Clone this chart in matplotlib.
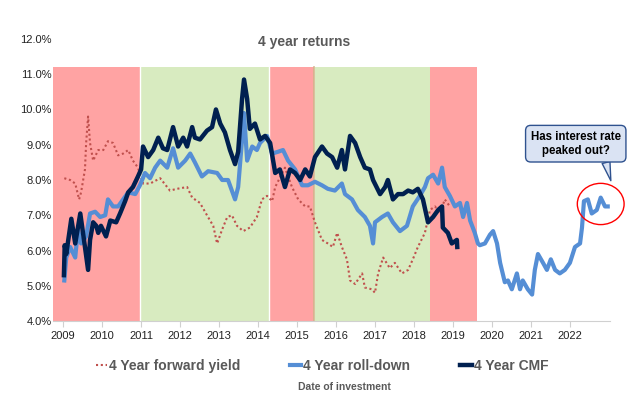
import matplotlib
matplotlib.use("Agg")
import matplotlib.pyplot as plt
from matplotlib.patches import Ellipse

plt.rcParams['font.family'] = ['Liberation Sans', 'DejaVu Sans']

# decimal years / percent values
fwd_x = [2009.03, 2009.18, 2009.31, 2009.41, 2009.46, 2009.56, 2009.59, 2009.64, 2009.69, 2009.77,
         2009.90, 2010.03, 2010.15, 2010.28, 2010.41, 2010.54, 2010.67, 2010.79, 2010.92, 2011.05,
         2011.23, 2011.49, 2011.74, 2011.92, 2012.18, 2012.31, 2012.51, 2012.69, 2012.85, 2012.95,
         2013.08, 2013.21, 2013.33, 2013.46, 2013.62, 2013.79, 2013.97, 2014.10, 2014.23, 2014.36,
         2014.44, 2014.69, 2014.87, 2015.03, 2015.21, 2015.33, 2015.46, 2015.64, 2015.79, 2015.92,
         2016.03, 2016.15, 2016.28, 2016.36, 2016.49, 2016.67, 2016.74, 2016.92, 2017.00, 2017.08,
         2017.21, 2017.38, 2017.51, 2017.69, 2017.85, 2017.97, 2018.10, 2018.28, 2018.41, 2018.54,
         2018.67, 2018.79, 2018.92]
fwd_y = [8.05, 8.0, 7.9, 7.45, 7.65, 8.3, 9.05, 9.8, 9.05, 8.55,
         8.85, 8.85, 9.1, 9.05, 8.7, 8.75, 8.85, 8.55, 8.35, 7.9,
         7.9, 8.05, 7.7, 7.75, 7.8, 7.5, 7.35, 7.0, 6.7, 6.2,
         6.6, 6.95, 7.0, 6.7, 6.55, 6.65, 6.95, 7.45, 7.55, 7.4,
         7.8, 8.35, 7.8, 7.45, 7.25, 7.25, 6.8, 6.3, 6.2, 6.1,
         6.5, 6.1, 5.75, 5.15, 5.05, 5.35, 4.95, 4.9, 4.8, 5.35,
         5.8, 5.5, 5.65, 5.35, 5.45, 5.75, 6.1, 6.5, 7.15, 7.25,
         7.05, 7.45, 7.25]

roll_x = [2009.03, 2009.08, 2009.18, 2009.31, 2009.38, 2009.46, 2009.59, 2009.69, 2009.82, 2009.95,
          2010.08, 2010.15, 2010.28, 2010.41, 2010.54, 2010.67, 2010.85, 2010.97, 2011.10, 2011.23,
          2011.36, 2011.49, 2011.67, 2011.82, 2011.95, 2012.13, 2012.26, 2012.38, 2012.56, 2012.72,
          2012.95, 2013.08, 2013.23, 2013.41, 2013.49, 2013.59, 2013.64, 2013.72, 2013.85, 2013.97,
          2014.05, 2014.23, 2014.36, 2014.51, 2014.64, 2014.77, 2014.95, 2015.13, 2015.28, 2015.46,
          2015.64, 2015.79, 2015.97, 2016.15, 2016.23, 2016.41, 2016.56, 2016.74, 2016.87, 2016.95,
          2017.00, 2017.18, 2017.33, 2017.46, 2017.64, 2017.82, 2017.97, 2018.15, 2018.28, 2018.36,
          2018.49, 2018.62, 2018.72, 2018.79, 2018.92, 2019.05, 2019.18, 2019.26, 2019.36, 2019.44,
          2019.56, 2019.64, 2019.69, 2019.82, 2019.95, 2020.03, 2020.13, 2020.21, 2020.33, 2020.41,
          2020.51, 2020.64, 2020.72, 2020.79, 2020.92, 2021.03, 2021.10, 2021.18, 2021.31, 2021.41,
          2021.51, 2021.62, 2021.74, 2021.87, 2022.00, 2022.13, 2022.26, 2022.31, 2022.36, 2022.46,
          2022.56, 2022.69, 2022.79, 2022.90, 2022.97]
roll_y = [5.15, 5.8, 6.1, 5.8, 6.6, 6.2, 6.4, 7.05, 7.1, 6.95,
          7.0, 7.45, 7.25, 7.25, 7.45, 7.65, 7.6, 7.85, 8.2, 8.05,
          8.35, 8.55, 8.35, 8.9, 8.35, 8.55, 8.75, 8.5, 8.1, 8.25,
          8.2, 8.0, 8.0, 7.45, 7.8, 9.15, 9.9, 8.55, 8.95, 8.85,
          9.05, 9.25, 8.75, 8.8, 8.85, 8.55, 8.3, 7.85, 7.85, 7.95,
          7.85, 7.75, 7.7, 7.9, 7.6, 7.45, 7.15, 6.95, 6.7, 6.2,
          6.8, 6.95, 7.05, 6.8, 6.55, 6.7, 7.25, 7.55, 7.8, 8.05,
          8.15, 7.9, 8.35, 7.8, 7.55, 7.25, 7.35, 6.95, 7.35, 6.85,
          6.5, 6.2, 6.15, 6.2, 6.45, 6.55, 6.2, 5.65, 5.1, 5.15,
          4.9, 5.35, 4.9, 5.15, 4.9, 4.75, 5.45, 5.9, 5.65, 5.45,
          5.75, 5.45, 5.35, 5.45, 5.65, 6.1, 6.2, 6.65, 7.4, 7.45,
          7.05, 7.15, 7.5, 7.25, 7.25]

cmf_x = [2009.02, 2009.04, 2009.08, 2009.21, 2009.31, 2009.44, 2009.56, 2009.64, 2009.69, 2009.77,
         2009.85, 2009.90, 2009.97, 2010.10, 2010.21, 2010.36, 2010.46, 2010.59, 2010.67, 2010.79,
         2010.92, 2011.00, 2011.05, 2011.18, 2011.31, 2011.44, 2011.56, 2011.67, 2011.82, 2011.95,
         2012.08, 2012.18, 2012.31, 2012.38, 2012.51, 2012.69, 2012.82, 2012.92, 2013.03, 2013.15,
         2013.28, 2013.41, 2013.49, 2013.59, 2013.64, 2013.72, 2013.79, 2013.92, 2014.05, 2014.18,
         2014.31, 2014.44, 2014.56, 2014.69, 2014.82, 2014.95, 2015.08, 2015.21, 2015.33, 2015.46,
         2015.64, 2015.77, 2015.90, 2016.03, 2016.15, 2016.23, 2016.36, 2016.49, 2016.62, 2016.74,
         2016.87, 2016.95, 2017.13, 2017.26, 2017.33, 2017.46, 2017.59, 2017.72, 2017.85, 2017.97,
         2018.10, 2018.23, 2018.36, 2018.49, 2018.62, 2018.72, 2018.74, 2018.87, 2018.97, 2019.10,
         2019.11]
cmf_y = [5.3, 6.15, 5.9, 6.9, 6.2, 7.05, 6.1, 5.45, 6.3, 6.8,
         6.7, 6.5, 6.7, 6.4, 6.85, 6.8, 7.05, 7.4, 7.65, 7.8,
         8.1, 8.3, 8.95, 8.65, 8.85, 9.2, 8.9, 8.85, 9.5, 8.95,
         9.2, 8.95, 9.5, 9.2, 9.15, 9.4, 9.5, 10.0, 9.6, 9.35,
         8.85, 8.45, 8.8, 10.3, 10.85, 10.3, 9.45, 9.6, 9.15, 9.25,
         9.05, 8.2, 8.3, 7.8, 8.3, 8.2, 8.0, 8.3, 8.1, 8.65,
         8.95, 8.75, 8.65, 8.35, 8.85, 8.3, 9.25, 9.05, 8.65, 8.35,
         8.3, 8.0, 7.6, 7.8, 8.0, 7.45, 7.6, 7.6, 7.7, 7.65,
         7.75, 7.45, 6.8, 6.95, 7.15, 7.25, 6.65, 6.5, 6.2, 6.3,
         6.1]

# rate-cycle bands (start, end, colour)
band_start = [2008.74, 2010.97, 2014.28, 2015.45, 2018.42]
band_end = [2010.96, 2014.27, 2015.44, 2018.42, 2019.62]
band_color = ['#ffa3a3', '#d8ebc0', '#ffa3a3', '#d8ebc0', '#ffa3a3']
band_top = 11.2

years = list(range(2009, 2023))

fig = plt.figure(figsize=(6.44, 3.97), dpi=100)
ax = fig.add_axes([0.0823, 0.1914, 0.8650, 0.7104])
ax.set_xlim(2008.74, 2023.03)
ax.set_ylim(4, 12)

frac = (band_top - 4) / 8
for s, e, c in zip(band_start, band_end, band_color):
    ax.axvspan(s, e, ymin=0, ymax=frac, color=c, lw=0, zorder=0)
ax.axvline(2015.445, ymax=frac, color='#d2b48c', lw=1.2, zorder=0)
ax.axvline(2010.965, ymax=frac, color='white', lw=1, zorder=0)
ax.axvline(2014.275, ymax=frac, color='white', lw=1, zorder=0)

ax.plot(fwd_x, fwd_y, ls=(0, (1, 1.3)), color='#c0504d', lw=1.5, label='4 Year forward yield', zorder=2)
ax.plot(roll_x, roll_y, color='#558ed5', lw=3, label='4 Year roll-down', zorder=3)
ax.plot(cmf_x, cmf_y, color='#002050', lw=3.2, label='4 Year CMF', zorder=4)

ax.set_yticks(range(4, 13))
ax.set_yticklabels(['%.1f%%' % v for v in range(4, 13)], fontsize=8, color='#222222')
ax.set_xticks(years)
ax.set_xticklabels([str(y) for y in years], fontsize=8, color='#222222')
ax.tick_params(axis='y', length=0, pad=1)
ax.tick_params(axis='x', length=4, color='#d0d0d0', pad=3)
for side in ['left', 'top', 'right']:
    ax.spines[side].set_visible(False)
ax.spines['bottom'].set_color('#d0d0d0')

fig.text(0.472, 0.894, '4 year returns', ha='center', va='center',
         fontsize=10, fontweight='bold', color='#595959')

leg = fig.legend(loc='center', bbox_to_anchor=(0.5, 0.078), ncol=3, frameon=False,
                 handlelength=0.8, handletextpad=0.15, columnspacing=3.6,
                 prop={'size': 10, 'weight': 'bold'})
for t in leg.get_texts():
    t.set_color('#595959')

fig.text(0.535, 0.025, 'Date of investment', ha='center', va='center',
         fontsize=7.5, fontweight='bold', color='#595959')

# callout
ax.annotate('Has interest rate\npeaked out?', xy=(2023.05, 7.98), xytext=(2022.15, 9.03),
            ha='center', va='center', fontsize=8.3, fontweight='bold', color='black',
            annotation_clip=False, linespacing=1.25,
            bbox=dict(boxstyle='round,pad=0.45', fc='#dae3f3', ec='#2f528f', lw=1),
            arrowprops=dict(arrowstyle='wedge,tail_width=0.7', fc='#dae3f3', ec='#2f528f',
                            lw=1, shrinkA=0, shrinkB=0, relpos=(0.82, 0.0)))
ax.add_patch(Ellipse((2022.79, 7.32), 1.2, 1.17, fill=False, ec='red', lw=1, clip_on=False, zorder=5))

fig.savefig('out.png', dpi=100)
